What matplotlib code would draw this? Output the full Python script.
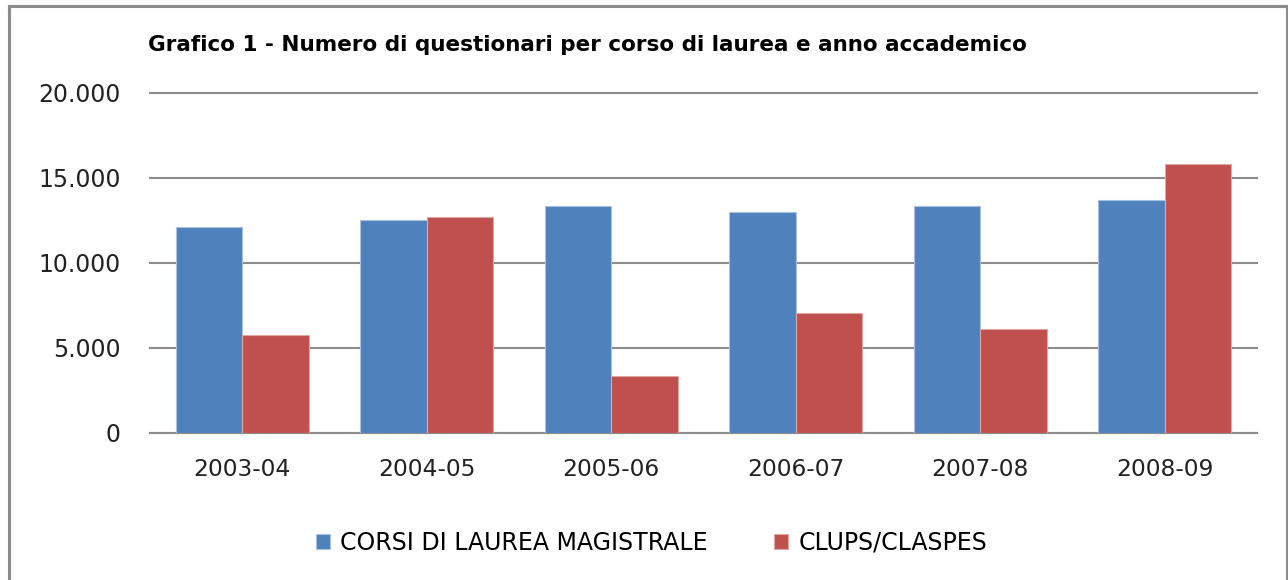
import numpy as np
import matplotlib
matplotlib.use("Agg")
import matplotlib.pyplot as plt
from matplotlib.ticker import FuncFormatter
from matplotlib.lines import Line2D

# Dati
anni = ["2003-04", "2004-05", "2005-06", "2006-07", "2007-08", "2008-09"]
magistrale = [12080, 12540, 13350, 13000, 13350, 13680]
clups = [5750, 12700, 3340, 7020, 6120, 15800]
serie = ["CORSI DI LAUREA MAGISTRALE", "CLUPS/CLASPES"]
titolo = "Grafico 1 - Numero di questionari per corso di laurea e anno accademico"

blu = "#4F81BD"
rosso = "#C0504D"

plt.rcParams['font.family'] = ['DejaVu Sans']

fig = plt.figure(figsize=(12.88, 5.8), dpi=100)
ax = fig.add_axes([0.1165, 0.254, 0.8595, 0.586])

x = np.arange(len(anni))
w = 0.36
ax.bar(x - w / 2, magistrale, w, color=blu, edgecolor="#a9c1e0", linewidth=0.8,
       label=serie[0], zorder=3)
ax.bar(x + w / 2, clups, w, color=rosso, edgecolor="#e0a6a4", linewidth=0.8,
       label=serie[1], zorder=3)

ax.set_xlim(-0.5, len(anni) - 0.5)
ax.set_ylim(0, 20000)
ax.set_yticks(np.arange(0, 20001, 5000))
ax.yaxis.set_major_formatter(FuncFormatter(lambda v, p: f"{int(v):,}".replace(",", ".")))
ax.set_xticks(x)
ax.set_xticklabels(anni)

ax.grid(axis="y", color="#8c8c8c", linewidth=1.5, zorder=0)
for gl in ax.get_ygridlines():
    gl.set_clip_on(False)
for s in ["top", "right", "left"]:
    ax.spines[s].set_visible(False)
ax.spines["bottom"].set_color("#8c8c8c")
ax.spines["bottom"].set_linewidth(1.5)
ax.tick_params(axis="y", length=0, pad=21, labelsize=17, labelcolor="#222222")
ax.tick_params(axis="x", length=0, pad=18, labelsize=16.8, labelcolor="#222222")

fig.text(0.115, 0.922, titolo, fontsize=15.5, fontweight="bold", va="center", ha="left",
         family=["Liberation Sans Narrow", "DejaVu Sans"])

fig.legend(loc="center", bbox_to_anchor=(0.506, 0.064), ncol=2, frameon=False,
           fontsize=17, handlelength=0.6, handleheight=0.6, handletextpad=0.45,
           columnspacing=2.8)

# cornice grigia
gr = "#8c8c8c"
fig.add_artist(Line2D([0.0066, 0.0066], [0, 0.99], color=gr, linewidth=2.2))
fig.add_artist(Line2D([0.0066, 0.999], [0.99, 0.99], color=gr, linewidth=2.2))
fig.add_artist(Line2D([0.999, 0.999], [0, 0.99], color=gr, linewidth=2.2))

fig.savefig("out.png", dpi=100, facecolor="white")
